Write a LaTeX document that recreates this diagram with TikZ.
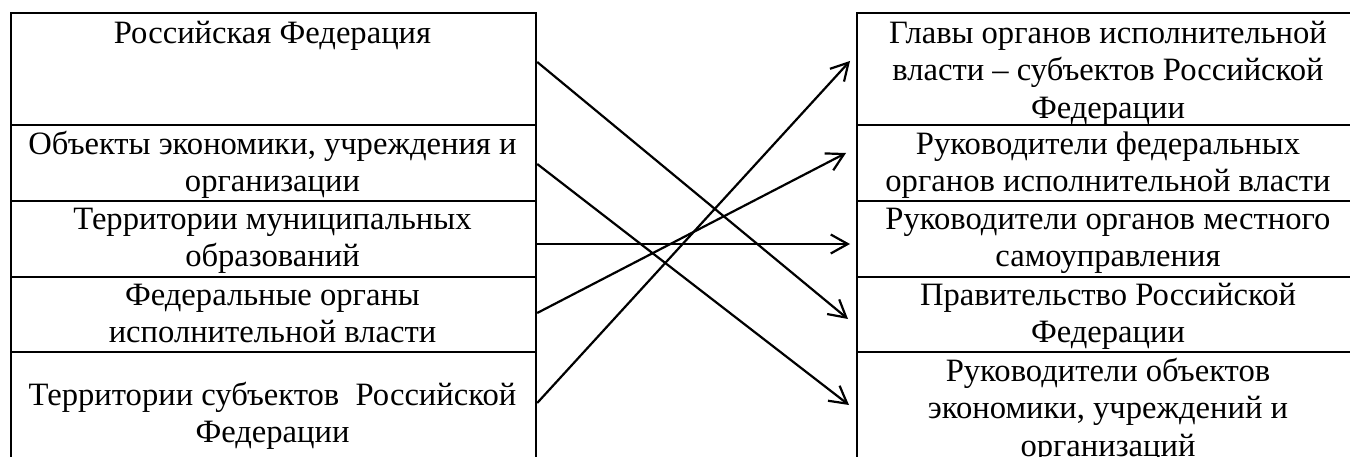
\documentclass[tikz,border=0pt]{standalone}
\usepackage{fontspec}
\setmainfont{Liberation Serif}
\usetikzlibrary{arrows.meta}
\begin{document}
\begin{tikzpicture}[x=1pt,y=-1pt,
  lbox/.style={draw, line width=2.2pt, anchor=north west, inner sep=0, minimum width=525pt},
  rbox/.style={draw, line width=2.2pt, anchor=north west, inner sep=0, minimum width=506pt},
  txt/.style={anchor=north, inner sep=0, align=center, font=\fontsize{32.6pt}{37.5pt}\selectfont},
  link/.style={line width=2.2pt, -{Straight Barb[length=17pt, width=19pt, line width=2.2pt]}}
]
\useasboundingbox (0,0) rectangle (1350,457);
\clip (0,0) rectangle (1350,457);
% left column
\node[lbox, minimum height=112pt] (L1) at (10,12) {};
\node[lbox, minimum height=76pt] (L2) at (10,124) {};
\node[lbox, minimum height=76pt] (L3) at (10,200) {};
\node[lbox, minimum height=75pt] (L4) at (10,276) {};
\node[lbox, minimum height=130pt] (L5) at (10,351) {};
% right column
\node[rbox, minimum height=112pt] (R1) at (856,12) {};
\node[rbox, minimum height=76pt] (R2) at (856,124) {};
\node[rbox, minimum height=76pt] (R3) at (856,200) {};
\node[rbox, minimum height=75pt] (R4) at (856,276) {};
\node[rbox, minimum height=130pt] (R5) at (856,351) {};
% texts
\node[txt] (tL1) at (272.5,17) {\strut Российская Федерация};
\node[txt] (tL2) at (272.5,128) {\strut Объекты экономики, учреждения и\\ организации};
\node[txt] (tL3) at (272.5,203) {\strut Территории муниципальных\\ образований};
\node[txt] (tL4) at (272.5,279) {\strut Федеральные органы\\ исполнительной власти};
\node[txt] (tL5) at (272.5,379) {\strut Территории субъектов\ \ Российской\\ Федерации};
\node[txt] (tR1) at (1108,17) {\strut Главы органов исполнительной\\ власти – субъектов Российской\\ Федерации};
\node[txt] (tR2) at (1108,128) {\strut Руководители федеральных\\ органов исполнительной власти};
\node[txt] (tR3) at (1108,203) {\strut Руководители органов местного\\ самоуправления};
\node[txt] (tR4) at (1108,279) {\strut Правительство Российской\\ Федерации};
\node[txt] (tR5) at (1108,355) {\strut Руководители объектов\\ экономики, учреждений и\\ организаций};
% connector ends
\coordinate (s1) at (L1.east |- 0,62);
\coordinate (s2) at (L2.east |- 0,164);
\coordinate (s3) at (L3.east |- 0,244);
\coordinate (s4) at (L4.east |- 0,313);
\coordinate (s5) at (L5.east |- 0,403);
\coordinate (e1) at (848,319);
\coordinate (e2) at (849,405);
\coordinate (e3) at (850,244);
\coordinate (e4) at (846,153);
\coordinate (e5) at (850,61);
\draw[link] (s1) -- (e1);
\draw[link] (s2) -- (e2);
\draw[link] (s3) -- (e3);
\draw[link] (s4) -- (e4);
\draw[link] (s5) -- (e5);
\end{tikzpicture}
\end{document}
